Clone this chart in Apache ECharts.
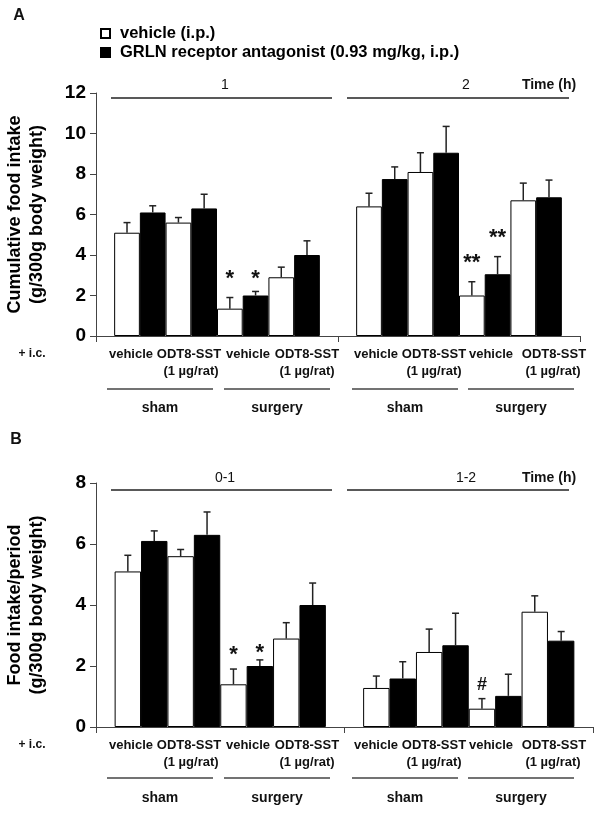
<!DOCTYPE html>
<html><head><meta charset="utf-8">
<script src="https://cdn.jsdelivr.net/npm/echarts@6/dist/echarts.min.js"></script>
<style>html,body{margin:0;padding:0;background:#fff}#c{width:604px;height:816px}</style>
</head><body><div id="c"></div>
<script>
// ---------- data ----------
const timeA = ['1', '2'];
const timeB = ['0-1', '1-2'];
const ipNames = ['vehicle (i.p.)', 'GRLN receptor antagonist (0.93 mg/kg, i.p.)'];
// bar order inside each time group:
// sham+veh(ip veh, ip GRLN), sham+ODT8(ip veh, ip GRLN), surgery+veh(...), surgery+ODT8(...)
const icLabels = ['vehicle', 'ODT8-SST', 'vehicle', 'ODT8-SST'];
const groupLabels = ['sham', 'surgery'];
const cum1h    = [5.1, 6.1, 5.6, 6.3, 1.35, 2.0, 2.9, 4.0];
const cum1hErr = [0.5, 0.33, 0.25, 0.7, 0.55, 0.2, 0.5, 0.7];
const cum2h    = [6.4, 7.75, 8.1, 9.05, 2.0, 3.05, 6.7, 6.85];
const cum2hErr = [0.65, 0.6, 0.95, 1.3, 0.68, 0.87, 0.85, 0.85];
const per01    = [5.1, 6.1, 5.6, 6.3, 1.4, 2.0, 2.9, 4.0];
const per01Err = [0.53, 0.33, 0.22, 0.75, 0.5, 0.2, 0.52, 0.72];
const per12    = [1.28, 1.59, 2.46, 2.68, 0.6, 1.02, 3.78, 2.83];
const per12Err = [0.39, 0.55, 0.75, 1.05, 0.33, 0.71, 0.52, 0.3];
// significance marks: [panel, time index, bar index, text, y value]
const marks = [
  [0, 0, 4, '*', 3.06], [0, 0, 5, '*', 3.06],
  [0, 1, 4, '**', 3.85], [0, 1, 5, '**', 5.09],
  [1, 0, 4, '*', 2.52], [1, 0, 5, '*', 2.59],
  [1, 1, 4, '#', 1.37]
];

// ---------- build ----------
const FONT = '"Liberation Sans", Arial, sans-serif';
const NB = 8, CATGAP = 0.15;
const panels = [
  {t1: cum1h, e1: cum1hErr, t2: cum2h, e2: cum2hErr},
  {t1: per01, e1: per01Err, t2: per12, e2: per12Err}
];
const series = [];
panels.forEach((p, gi) => {
  for (let k = 0; k < NB; k++) {
    const white = k % 2 === 0;
    series.push({
      type: 'bar', name: ipNames[k % 2], xAxisIndex: gi, yAxisIndex: gi,
      data: [p.t1[k], p.t2[k]],
      barGap: '0%', barCategoryGap: (CATGAP * 100) + '%',
      itemStyle: {color: white ? '#ffffff' : '#000000', borderColor: '#000', borderWidth: 1},
      emphasis: {disabled: true}, z: 2
    });
  }
  const errData = [];
  for (let k = 0; k < NB; k++) {
    errData.push([0, p.t1[k], p.e1[k], k]);
    errData.push([1, p.t2[k], p.e2[k], k]);
  }
  series.push({
    type: 'custom', xAxisIndex: gi, yAxisIndex: gi, data: errData, z: 3, silent: true,
    renderItem: function (params, api) {
      const cat = api.value(0), v = api.value(1), e = api.value(2), k = api.value(3);
      const bw = api.size([1, 0])[0] * (1 - CATGAP) / NB;
      const base = api.coord([cat, v]);
      const x = base[0] + (k - (NB - 1) / 2) * bw;
      const yTop = api.coord([cat, v + e])[1];
      const st = {stroke: '#222', lineWidth: 1.5};
      return {type: 'group', children: [
        {type: 'line', shape: {x1: x, y1: base[1], x2: x, y2: yTop}, style: st},
        {type: 'line', shape: {x1: x - 3.5, y1: yTop, x2: x + 3.5, y2: yTop}, style: st}
      ]};
    }
  });
  const mk = marks.filter(m => m[0] === gi).map(m => [m[1], m[4], m[2], m[3]]);
  series.push({
    type: 'custom', xAxisIndex: gi, yAxisIndex: gi, data: mk, z: 4, silent: true,
    dimensions: ['x', 'y', 'k', {name: 't', type: 'ordinal'}],
    renderItem: function (params, api) {
      const item = mk[params.dataIndex];
      const bw = api.size([1, 0])[0] * (1 - CATGAP) / NB;
      const c = api.coord([item[0], item[1]]);
      const x = c[0] + (item[2] - (NB - 1) / 2) * bw;
      const isHash = item[3] === '#';
      return {type: 'text', x: x, y: c[1] + (isHash ? 0 : 5), style: {
        text: item[3], fontFamily: FONT, fontWeight: 'bold', fontSize: isHash ? 18 : 22,
        fill: '#111', align: 'center', verticalAlign: 'middle'}};
    }
  });
});

const axisLineStyle = {color: '#444', width: 1};
function yAxis(gi, max, name) {
  return {
    type: 'value', gridIndex: gi, min: 0, max: max, interval: 2,
    axisLine: {show: true, lineStyle: axisLineStyle},
    axisTick: {show: true, length: 6, lineStyle: axisLineStyle},
    splitLine: {show: false},
    axisLabel: {fontFamily: FONT, fontWeight: 'bold', fontSize: 19, color: '#000', margin: 10},
    name: name, nameLocation: 'middle', nameRotate: 90, nameGap: 48,
    nameTextStyle: {fontFamily: FONT, fontWeight: 'bold', fontSize: 18, color: '#000', lineHeight: 22}
  };
}
function xAxis(gi, cats) {
  return {
    type: 'category', gridIndex: gi, data: cats,
    axisLine: {show: true, lineStyle: axisLineStyle},
    axisTick: {show: true, length: 6, lineStyle: axisLineStyle},
    axisLabel: {show: false}
  };
}

// ---------- annotation text / lines ----------
const graphic = [];
function txt(x, y, s, size, bold) {
  graphic.push({type: 'text', x: x, y: y, silent: true, style: {
    text: s, fontFamily: FONT, fontSize: size, fontWeight: bold ? 'bold' : 'normal',
    fill: '#111', align: 'center', verticalAlign: 'middle'}});
}
function hline(x1, x2, y, w, col) {
  graphic.push({type: 'line', silent: true, shape: {x1: x1, y1: y, x2: x2, y2: y},
    style: {stroke: col || '#222', lineWidth: w || 1.5}});
}
txt(19, 16, 'A', 16, true);
txt(16, 440, 'B', 16, true);
// time header lines
const tops = [
  {ly: 98, ty: 85, labels: timeA},
  {ly: 490, ty: 478, labels: timeB}
];
tops.forEach(t => {
  hline(111, 332, t.ly, 1.5);
  hline(347, 569, t.ly, 1.5);
  txt(225, t.ty, t.labels[0], 14, false);
  txt(466, t.ty, t.labels[1], 14, false);
  txt(549, t.ty, 'Time (h)', 14, true);
});
// i.c. treatment labels
const icX = [131, 189, 248, 307, 376, 434, 491, 554];
const doseX = [191, 307, 434, 553];
const ulines = [[107, 213], [224, 330], [352, 458], [468, 574]];
const rows = [{y1: 354, y2: 371, yl: 389, yg: 408}, {y1: 745, y2: 762, yl: 778, yg: 798}];
rows.forEach(r => {
  txt(32, r.y1, '+ i.c.', 12, true);
  icX.forEach((x, i) => txt(x, r.y1, icLabels[i % 4], 13, true));
  doseX.forEach(x => txt(x, r.y2, '(1 µg/rat)', 13, true));
  ulines.forEach((u, i) => {
    hline(u[0], u[1], r.yl, 1.5, '#444');
    txt((u[0] + u[1]) / 2, r.yg, groupLabels[i % 2], 14, true);
  });
});

const chart = echarts.init(document.getElementById('c'), null, {renderer: 'canvas'});
chart.setOption({
  backgroundColor: '#fff',
  animation: false,
  legend: {
    data: ipNames, orient: 'vertical', left: 100, top: 24, itemGap: 0, padding: 0,
    itemWidth: 9, itemHeight: 9, icon: 'rect', selectedMode: false,
    textStyle: {fontFamily: FONT, fontWeight: 'bold', fontSize: 16.5, lineHeight: 19, color: '#000', padding: [0, 0, 0, 5]}
  },
  grid: [
    {left: 96, right: 24, top: 93, height: 243, containLabel: false, outerBoundsMode: 'none'},
    {left: 96, right: 11, top: 483, height: 244, containLabel: false, outerBoundsMode: 'none'}
  ],
  xAxis: [xAxis(0, timeA), xAxis(1, timeB)],
  yAxis: [
    yAxis(0, 12, 'Cumulative food intake\n(g/300g body weight)'),
    yAxis(1, 8, 'Food intake/period\n(g/300g body weight)')
  ],
  series: series,
  graphic: graphic
});
</script></body></html>
